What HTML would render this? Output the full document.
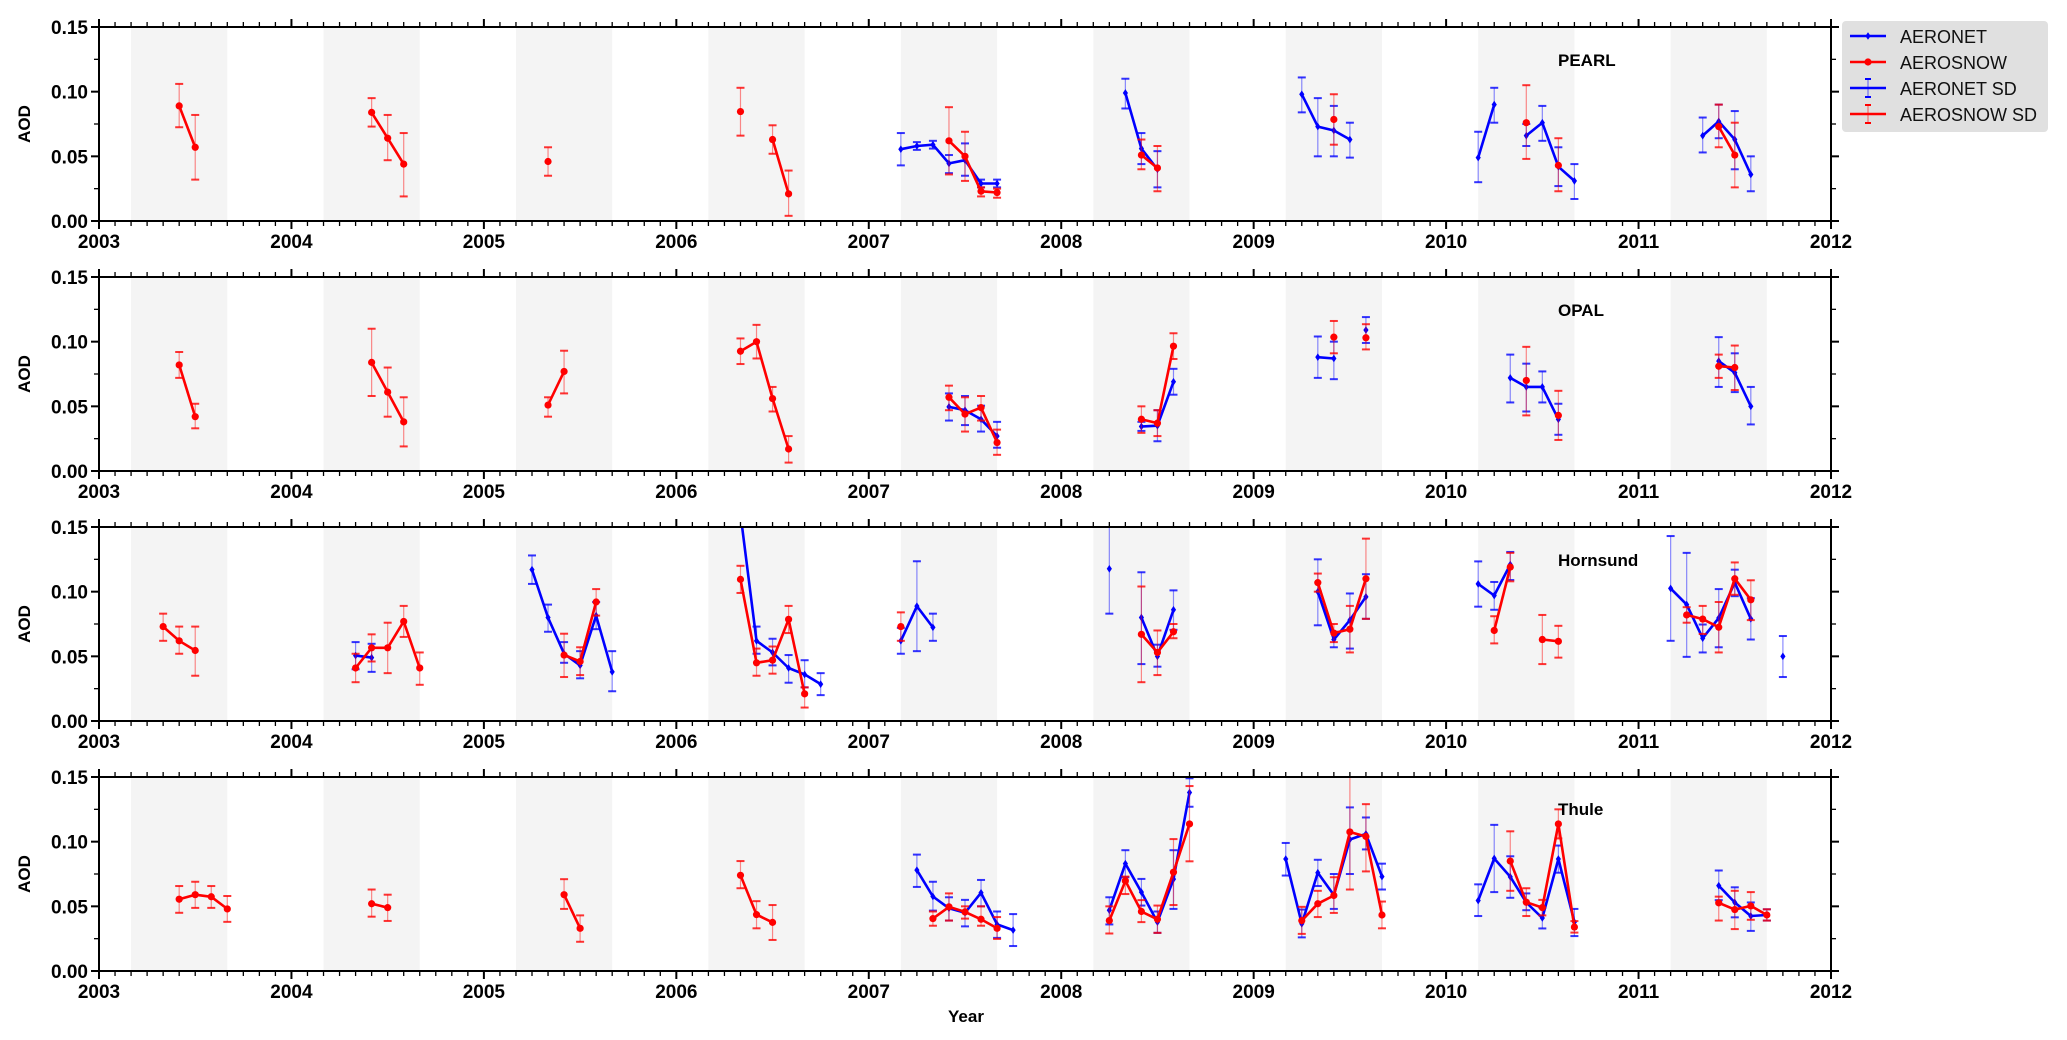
<!DOCTYPE html>
<html><head><meta charset="utf-8">
<style>
html,body{margin:0;padding:0;background:#fff;}
svg{display:block;font-family:"Liberation Sans","DejaVu Sans",sans-serif;}
.tl{font-weight:bold;font-size:19px;}
</style></head>
<body>
<svg id="chart" width="2067" height="1040" viewBox="0 0 2067 1040" xmlns="http://www.w3.org/2000/svg"></svg>
<script>
// ---- data: dates as YYYY.MM, values, lower and upper SD bounds ----
const panelNames = ["PEARL","OPAL","Hornsund","Thule"];
const yTicks = [0, 0.05, 0.10, 0.15];
const yTickLabels = ["0.00","0.05","0.10","0.15"];
const xYears = [2003,2004,2005,2006,2007,2008,2009,2010,2011,2012];

// PEARL
const pearlNetDates = [2007.03,2007.04,2007.05,2007.06,2007.07,2007.08,2007.09,2008.05,2008.06,2008.07,2009.04,2009.05,2009.06,2009.07,2010.03,2010.04,2010.06,2010.07,2010.08,2010.09,2011.05,2011.06,2011.07,2011.08];
const pearlNetVals  = [0.0555,0.058,0.059,0.0445,0.047,0.029,0.029,0.099,0.056,0.040,0.098,0.073,0.070,0.063,0.049,0.090,0.066,0.076,0.042,0.031,0.066,0.077,0.063,0.036];
const pearlNetLo    = [0.043,0.055,0.056,0.037,0.035,0.026,0.026,0.087,0.044,0.026,0.084,0.050,0.050,0.049,0.030,0.076,0.058,0.062,0.027,0.017,0.053,0.064,0.040,0.023];
const pearlNetHi    = [0.068,0.061,0.062,0.051,0.060,0.032,0.032,0.110,0.068,0.054,0.111,0.095,0.089,0.076,0.069,0.103,0.075,0.089,0.057,0.044,0.080,0.090,0.085,0.050];
const pearlSnowDates = [2003.06,2003.07,2004.06,2004.07,2004.08,2005.05,2006.05,2006.07,2006.08,2007.06,2007.07,2007.08,2007.09,2008.06,2008.07,2009.06,2010.06,2010.08,2011.06,2011.07];
const pearlSnowVals  = [0.089,0.057,0.084,0.064,0.044,0.046,0.0846,0.063,0.021,0.062,0.050,0.023,0.022,0.051,0.041,0.0785,0.076,0.043,0.073,0.051];
const pearlSnowLo    = [0.0725,0.032,0.073,0.047,0.019,0.035,0.066,0.052,0.004,0.036,0.031,0.019,0.018,0.040,0.023,0.059,0.048,0.023,0.057,0.026];
const pearlSnowHi    = [0.106,0.082,0.095,0.082,0.068,0.057,0.103,0.074,0.039,0.088,0.069,0.026,0.025,0.063,0.058,0.098,0.105,0.064,0.090,0.076];

// OPAL
const opalNetDates = [2007.06,2007.07,2007.08,2007.09,2008.06,2008.07,2008.08,2009.05,2009.06,2009.08,2010.05,2010.06,2010.07,2010.08,2011.06,2011.07,2011.08];
const opalNetVals  = [0.0496,0.047,0.040,0.027,0.0344,0.035,0.069,0.088,0.087,0.109,0.072,0.065,0.065,0.040,0.085,0.076,0.050];
const opalNetLo    = [0.039,0.0355,0.0305,0.018,0.031,0.023,0.059,0.072,0.071,0.099,0.053,0.046,0.053,0.028,0.065,0.061,0.036];
const opalNetHi    = [0.060,0.058,0.0505,0.038,0.038,0.047,0.079,0.104,0.100,0.119,0.090,0.083,0.077,0.052,0.1035,0.091,0.065];
const opalSnowDates = [2003.06,2003.07,2004.06,2004.07,2004.08,2005.05,2005.06,2006.05,2006.06,2006.07,2006.08,2007.06,2007.07,2007.08,2007.09,2008.06,2008.07,2008.08,2009.06,2009.08,2010.06,2010.08,2011.06,2011.07];
const opalSnowVals  = [0.082,0.042,0.084,0.061,0.038,0.051,0.077,0.0926,0.100,0.056,0.017,0.057,0.044,0.049,0.022,0.040,0.037,0.0965,0.1035,0.103,0.070,0.043,0.081,0.080];
const opalSnowLo    = [0.072,0.033,0.058,0.042,0.019,0.042,0.060,0.0827,0.087,0.046,0.0065,0.047,0.0305,0.039,0.0125,0.0295,0.027,0.0866,0.091,0.094,0.043,0.024,0.072,0.0626];
const opalSnowHi    = [0.092,0.052,0.110,0.080,0.057,0.057,0.093,0.1025,0.113,0.065,0.027,0.066,0.057,0.058,0.032,0.050,0.047,0.1065,0.116,0.1135,0.096,0.062,0.090,0.097];

// Hornsund
const hornNetDates = [2004.05,2004.06,2005.04,2005.05,2005.06,2005.07,2005.08,2005.09,2006.05,2006.06,2006.07,2006.08,2006.09,2006.10,2007.03,2007.04,2007.05,2008.04,2008.06,2008.07,2008.08,2009.05,2009.06,2009.07,2009.08,2010.03,2010.04,2010.05,2011.03,2011.04,2011.05,2011.06,2011.07,2011.08,2011.10];
const hornNetVals  = [0.0506,0.049,0.117,0.080,0.052,0.043,0.0815,0.038,0.160,0.062,0.053,0.041,0.036,0.0285,0.062,0.0888,0.0724,0.1177,0.080,0.050,0.086,0.100,0.063,0.078,0.096,0.106,0.097,0.121,0.1025,0.090,0.064,0.0796,0.107,0.079,0.050];
const hornNetLo    = [0.040,0.038,0.106,0.069,0.045,0.033,0.071,0.023,0.150,0.052,0.043,0.0296,0.026,0.020,0.052,0.054,0.062,0.083,0.044,0.042,0.0705,0.074,0.057,0.056,0.079,0.0884,0.086,0.109,0.062,0.0496,0.053,0.057,0.0965,0.063,0.034];
const hornNetHi    = [0.061,0.0597,0.128,0.090,0.061,0.054,0.092,0.054,0.170,0.073,0.0636,0.051,0.047,0.037,0.072,0.1235,0.083,0.152,0.115,0.059,0.101,0.125,0.069,0.0986,0.1135,0.1234,0.1075,0.1307,0.143,0.130,0.0746,0.102,0.117,0.095,0.0657];
const hornSnowDates = [2003.05,2003.06,2003.07,2004.05,2004.06,2004.07,2004.08,2004.09,2005.06,2005.07,2005.08,2006.05,2006.06,2006.07,2006.08,2006.09,2007.03,2008.06,2008.07,2008.08,2009.05,2009.06,2009.07,2009.08,2010.04,2010.05,2010.07,2010.08,2011.04,2011.05,2011.06,2011.07,2011.08];
const hornSnowVals  = [0.073,0.062,0.0545,0.041,0.0566,0.0566,0.077,0.041,0.051,0.046,0.092,0.1095,0.045,0.047,0.0786,0.021,0.073,0.067,0.053,0.069,0.107,0.068,0.071,0.110,0.070,0.119,0.063,0.0616,0.082,0.0788,0.0725,0.110,0.0937];
const hornSnowLo    = [0.062,0.052,0.035,0.030,0.046,0.037,0.065,0.028,0.034,0.0355,0.0815,0.099,0.035,0.0366,0.068,0.0104,0.062,0.030,0.0355,0.064,0.100,0.061,0.053,0.079,0.060,0.108,0.044,0.049,0.076,0.0673,0.053,0.0976,0.078];
const hornSnowHi    = [0.083,0.073,0.073,0.052,0.067,0.076,0.089,0.053,0.0675,0.057,0.102,0.120,0.056,0.0576,0.089,0.026,0.084,0.104,0.070,0.075,0.114,0.075,0.089,0.141,0.081,0.130,0.082,0.0736,0.088,0.089,0.092,0.1226,0.1088];

// Thule
const thuleNetDates = [2007.04,2007.05,2007.06,2007.07,2007.08,2007.09,2007.10,2008.04,2008.05,2008.06,2008.07,2008.08,2008.09,2009.03,2009.04,2009.05,2009.06,2009.07,2009.08,2009.09,2010.03,2010.04,2010.05,2010.06,2010.07,2010.08,2010.09,2011.06,2011.07,2011.08,2011.09];
const thuleNetVals  = [0.078,0.0576,0.0485,0.045,0.0605,0.036,0.0316,0.047,0.083,0.061,0.0378,0.071,0.138,0.0866,0.0365,0.076,0.0587,0.1017,0.106,0.073,0.0545,0.087,0.0728,0.053,0.041,0.0866,0.0378,0.066,0.053,0.0425,0.0433];
const thuleNetLo    = [0.065,0.0467,0.039,0.0345,0.050,0.0256,0.0193,0.036,0.0725,0.0506,0.0295,0.048,0.127,0.0738,0.026,0.0657,0.048,0.075,0.094,0.063,0.0425,0.061,0.0566,0.047,0.0329,0.076,0.027,0.0548,0.0415,0.031,0.039];
const thuleNetHi    = [0.090,0.069,0.057,0.055,0.0704,0.046,0.044,0.057,0.0934,0.0712,0.046,0.0934,0.149,0.099,0.0475,0.086,0.075,0.1265,0.1187,0.083,0.067,0.113,0.0887,0.060,0.049,0.097,0.048,0.0777,0.0647,0.053,0.0477];
const thuleSnowDates = [2003.06,2003.07,2003.08,2003.09,2004.06,2004.07,2005.06,2005.07,2006.05,2006.06,2006.07,2007.05,2007.06,2007.07,2007.08,2007.09,2008.04,2008.05,2008.06,2008.07,2008.08,2008.09,2009.04,2009.05,2009.06,2009.07,2009.08,2009.09,2010.05,2010.06,2010.07,2010.08,2010.09,2011.06,2011.07,2011.08,2011.09];
const thuleSnowVals  = [0.0555,0.059,0.0574,0.048,0.052,0.049,0.059,0.033,0.074,0.0436,0.0376,0.0405,0.0496,0.0457,0.040,0.033,0.039,0.0697,0.046,0.040,0.0764,0.1137,0.039,0.052,0.0584,0.1075,0.104,0.0433,0.085,0.0532,0.049,0.1137,0.034,0.0527,0.0475,0.0503,0.0433];
const thuleSnowLo    = [0.045,0.0488,0.0488,0.038,0.042,0.0387,0.048,0.0226,0.064,0.033,0.024,0.035,0.039,0.0405,0.035,0.0248,0.029,0.0595,0.0378,0.0295,0.051,0.0848,0.0287,0.0417,0.0449,0.063,0.077,0.033,0.062,0.0425,0.043,0.1025,0.0297,0.039,0.0324,0.0396,0.039];
const thuleSnowHi    = [0.0657,0.069,0.0657,0.058,0.063,0.059,0.071,0.043,0.085,0.054,0.051,0.046,0.060,0.050,0.050,0.0417,0.050,0.073,0.0548,0.0506,0.102,0.143,0.0496,0.062,0.0725,0.151,0.129,0.0537,0.108,0.064,0.055,0.125,0.0386,0.0575,0.062,0.061,0.0477];

const panelSeries = [
  {net:[pearlNetDates,pearlNetVals,pearlNetLo,pearlNetHi], snow:[pearlSnowDates,pearlSnowVals,pearlSnowLo,pearlSnowHi]},
  {net:[opalNetDates,opalNetVals,opalNetLo,opalNetHi], snow:[opalSnowDates,opalSnowVals,opalSnowLo,opalSnowHi]},
  {net:[hornNetDates,hornNetVals,hornNetLo,hornNetHi], snow:[hornSnowDates,hornSnowVals,hornSnowLo,hornSnowHi]},
  {net:[thuleNetDates,thuleNetVals,thuleNetLo,thuleNetHi], snow:[thuleSnowDates,thuleSnowVals,thuleSnowLo,thuleSnowHi]}
];

// ---- layout ----
const NS = "http://www.w3.org/2000/svg";
const svg = document.getElementById("chart");
const X0 = 99, X1 = 1831, PH = 194, TOPS = [27,277,527,777];
const titlePos = [[1558,66],[1558,316],[1558,566],[1558,815]];
function xScale(t){ return X0 + (t-2003)/9*(X1-X0); }
function dateToT(d){ const y=Math.floor(d+1e-6); const m=Math.round((d-y)*100); return {t:y+(m-1)/12, idx:y*12+m}; }
function mk(tag, attrs, parent){ const e=document.createElementNS(NS,tag); for(const k in attrs) e.setAttribute(k,attrs[k]); (parent||svg).appendChild(e); return e; }

const defs = mk("defs",{});
TOPS.forEach((top,i)=>{
  const cp = mk("clipPath",{id:"clip"+i},defs);
  mk("rect",{x:X0,y:top,width:X1-X0,height:PH},cp);
});

TOPS.forEach((top,pi)=>{
  const bot = top+PH;
  const yScale = v => bot - v/0.15*PH;
  const g = mk("g",{});
  
  
  for(let y=2003;y<=2011;y++){
    const r = mk("rect",{x:xScale(y+2/12),y:top+1,width:xScale(y+8/12)-xScale(y+2/12),height:PH-1,fill:"#f4f4f4"},g);
    
    
  }
  const plot = mk("g",{"clip-path":"url(#clip"+pi+")"},g);
  [["net","#0000ff"],["snow","#ff0000"]].forEach(([key,col])=>{
    const [ds,vs,lo,hi] = panelSeries[pi][key];
    const sg = mk("g",{},plot);
    
    
    ds.forEach((d,i)=>{
      const x = xScale(dateToT(d).t);
      const eb = mk("g",{},sg);
      
      
      mk("line",{x1:x,x2:x,y1:yScale(lo[i]),y2:yScale(hi[i]),stroke:col,"stroke-width":1.2,"stroke-opacity":0.45},eb);
      [lo[i],hi[i]].forEach(v=>mk("line",{x1:x-4,x2:x+4,y1:yScale(v),y2:yScale(v),stroke:col,"stroke-width":2,"stroke-opacity":0.8},eb));
    });
    let pts=[], prev=null;
    const flush=()=>{ if(pts.length>1){ const p=mk("polyline",{points:pts.join(" "),fill:"none",stroke:col,"stroke-width":2.6,"stroke-linejoin":"round"},sg);   } pts=[]; };
    ds.forEach((d,i)=>{
      const dt = dateToT(d);
      if(prev!==null && dt.idx-prev!==1) flush();
      pts.push(xScale(dt.t).toFixed(1)+","+yScale(vs[i]).toFixed(1));
      prev = dt.idx;
    });
    flush();
    ds.forEach((d,i)=>{
      const x = xScale(dateToT(d).t), y = yScale(vs[i]);
      let m;
      if(key==="snow") m = mk("circle",{cx:x,cy:y,r:3.6,fill:col},sg);
      else m = mk("path",{d:`M${x},${y-3.8}L${x+2.6},${y}L${x},${y+3.8}L${x-2.6},${y}Z`,fill:col},sg);
      
      
    });
  });
  const fr = mk("rect",{x:X0,y:top,width:X1-X0,height:PH,fill:"none",stroke:"#000","stroke-width":2},g);
  
  
  for(let m=0;m<=108;m++){
    const x = xScale(2003+m/12), major = m%12===0, L = major?8:5;
    mk("line",{x1:x,x2:x,y1:bot,y2:bot+L,stroke:"#000","stroke-width":major?2:1.3},g);
    mk("line",{x1:x,x2:x,y1:top,y2:top-L,stroke:"#000","stroke-width":major?2:1.3},g);
  }
  xYears.forEach(yr=>{
    const t = mk("text",{x:xScale(yr),y:bot+27,"text-anchor":"middle",class:"tl"},g);
    t.textContent = yr;
    
    
  });
  for(let k=0;k<=6;k++){
    const v=k*0.025, y=yScale(v), major=k%2===0, L=major?8:5;
    mk("line",{x1:X0,x2:X0-L,y1:y,y2:y,stroke:"#000","stroke-width":major?2:1.3},g);
    mk("line",{x1:X1,x2:X1+L,y1:y,y2:y,stroke:"#000","stroke-width":major?2:1.3},g);
  }
  yTicks.forEach((v,i)=>{
    const t = mk("text",{x:X0-11,y:yScale(v)+7,"text-anchor":"end",class:"tl"},g);
    t.textContent = yTickLabels[i];
    
    
  });
  const yl = mk("text",{x:0,y:0,"text-anchor":"middle","font-weight":"bold","font-size":"17",transform:`translate(30,${top+PH/2}) rotate(-90)`},g);
  yl.textContent="AOD";
  
  
  const tt = mk("text",{x:titlePos[pi][0],y:titlePos[pi][1],"font-weight":"bold","font-size":"17"},g);
  tt.textContent = panelNames[pi];
  
  
});

const xl = mk("text",{x:966,y:1022,"text-anchor":"middle","font-weight":"bold","font-size":"17"});
xl.textContent="Year";



const lg = mk("g",{});


mk("rect",{x:1842,y:21,width:206,height:111,rx:4,fill:"#e0e0e0"},lg);
const legendLabels=["AERONET","AEROSNOW","AERONET SD","AEROSNOW SD"];
const legendColors=["#0000ff","#ff0000","#0000ff","#ff0000"];
legendLabels.forEach((lab,i)=>{
  const y = 36 + i*26, c = legendColors[i];
  const e = mk("g",{},lg);
  
  
  mk("line",{x1:1850,x2:1886,y1:y,y2:y,stroke:c,"stroke-width":2.6},e);
  if(i===0) mk("path",{d:`M1868,${y-3.8}L1870.6,${y}L1868,${y+3.8}L1865.4,${y}Z`,fill:c},e);
  if(i===1) mk("circle",{cx:1868,cy:y,r:3.6,fill:c},e);
  if(i>=2){
    mk("line",{x1:1868,x2:1868,y1:y-9,y2:y+9,stroke:c,"stroke-width":1.2,"stroke-opacity":0.5},e);
    mk("line",{x1:1865,x2:1871,y1:y-9,y2:y-9,stroke:c,"stroke-width":2},e);
    mk("line",{x1:1865,x2:1871,y1:y+9,y2:y+9,stroke:c,"stroke-width":2},e);
  }
  const t = mk("text",{x:1900,y:y+7,"font-size":"18",fill:"#111"},e);
  t.textContent = lab;
});
</script>
</body></html>
